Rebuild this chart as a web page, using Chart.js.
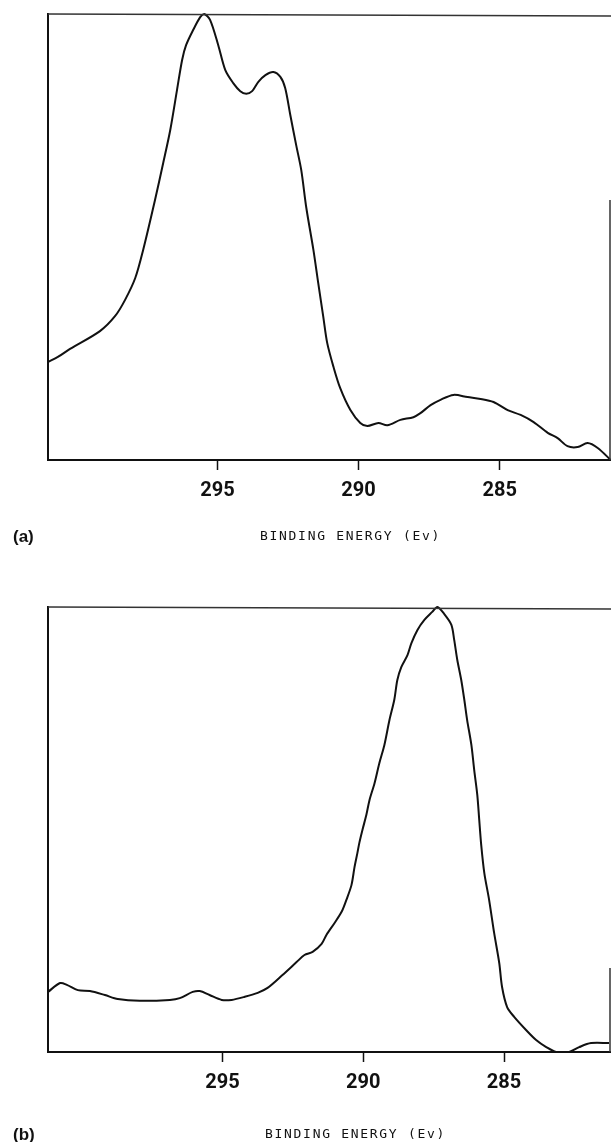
<!DOCTYPE html>
<html>
<head>
<meta charset="utf-8">
<script src="https://cdn.jsdelivr.net/npm/chart.js@4.4.0/dist/chart.umd.min.js"></script>
<style>
  html, body { margin: 0; padding: 0; background: #fff; }
  body { width: 611px; height: 1142px; position: relative; overflow: hidden; }
  canvas { position: absolute; left: 0; }
  #chartA { top: 0; }
  #chartB { top: 560px; }
</style>
</head>
<body>
<canvas id="chartA" width="611" height="560"></canvas>
<canvas id="chartB" width="611" height="582"></canvas>
<script>
// spectrum (a)
const energyA = [301.0, 300.65, 300.22, 299.16, 298.62, 298.27, 297.91, 297.63, 297.21, 296.92, 296.67, 296.43, 296.25, 296.11, 295.86, 295.61, 295.47, 295.26, 294.97, 294.72, 294.44, 294.19, 293.98, 293.77, 293.55, 293.30, 293.02, 292.77, 292.60, 292.42, 292.21, 292.03, 291.85, 291.60, 291.43, 291.25, 291.11, 290.89, 290.65, 290.29, 289.94, 289.69, 289.30, 288.98, 288.52, 288.06, 287.81, 287.45, 287.10, 286.64, 286.14, 285.68, 285.22, 284.72, 284.26, 283.80, 283.30, 282.95, 282.60, 282.24, 281.89, 281.53, 281.07];
const intensityA = [22.0, 23.1, 24.9, 28.9, 32.3, 35.9, 40.8, 47.1, 58.3, 66.6, 74.0, 83.0, 89.7, 93.0, 96.4, 99.3, 100, 98.7, 93.0, 87.4, 84.5, 82.7, 82.1, 82.7, 84.8, 86.3, 87.0, 85.9, 83.4, 77.4, 70.6, 65.0, 56.5, 47.1, 39.7, 32.1, 26.2, 20.9, 16.1, 11.2, 8.3, 7.6, 8.3, 7.8, 9.0, 9.6, 10.5, 12.3, 13.5, 14.6, 14.1, 13.7, 13.0, 11.2, 10.1, 8.5, 6.1, 4.9, 3.1, 2.9, 3.8, 2.7, 0];

// spectrum (b)
const energyB = [301.20, 300.77, 300.53, 300.14, 299.71, 299.18, 298.72, 297.94, 296.87, 296.52, 296.06, 295.81, 295.46, 295.03, 294.68, 294.21, 293.75, 293.40, 292.87, 292.37, 292.09, 291.80, 291.48, 291.31, 291.02, 290.77, 290.60, 290.42, 290.31, 290.21, 290.14, 290.03, 289.89, 289.78, 289.60, 289.43, 289.25, 289.07, 288.90, 288.79, 288.65, 288.43, 288.29, 288.08, 287.83, 287.55, 287.37, 287.12, 286.87, 286.77, 286.66, 286.52, 286.41, 286.31, 286.16, 286.06, 285.95, 285.88, 285.81, 285.70, 285.53, 285.35, 285.17, 285.07, 284.89, 284.64, 284.21, 283.86, 283.50, 283.15, 282.69, 282.33, 281.91, 281.27];
const intensityB = [13.5, 15.5, 15.1, 13.9, 13.7, 12.8, 11.9, 11.5, 11.7, 12.1, 13.5, 13.7, 12.8, 11.7, 11.7, 12.4, 13.3, 14.4, 17.3, 20.2, 21.8, 22.5, 24.3, 26.3, 29.0, 31.5, 34.2, 37.5, 41.6, 44.7, 47.0, 49.9, 53.3, 56.6, 60.4, 64.9, 69.0, 74.6, 79.1, 83.6, 86.5, 89.2, 91.9, 94.8, 97.1, 98.9, 100, 98.4, 96.0, 92.6, 88.1, 83.6, 79.1, 74.6, 69.0, 63.4, 57.8, 52.1, 46.5, 40.2, 34.2, 26.7, 20.0, 14.6, 10.1, 7.9, 4.9, 2.7, 1.1, 0, 0, 1.1, 2.0, 2.0];

const tickEnergies = [295, 290, 285];
const axisTitle = "BINDING ENERGY (Ev)";

// frame lines (left, top, part of right) + panel letter and axis title
const framePlugin = {
  id: "frame",
  afterDraw(chart, args, opts) {
    const { ctx, chartArea: a } = chart;
    ctx.save();
    ctx.strokeStyle = "#111";
    ctx.lineWidth = 2;
    ctx.beginPath();
    ctx.moveTo(a.left, a.bottom);
    ctx.lineTo(a.left, a.top - 1);
    ctx.stroke();

    ctx.lineWidth = 1.5;
    ctx.strokeStyle = "#333";
    ctx.beginPath();
    ctx.moveTo(a.left, a.top);
    ctx.lineTo(a.right, a.top + 2);
    ctx.stroke();

    ctx.beginPath();
    ctx.moveTo(a.right - 1, opts.rightFrom);
    ctx.lineTo(a.right - 1, a.bottom);
    ctx.stroke();

    ctx.fillStyle = "#111";
    ctx.textBaseline = "middle";
    ctx.font = "bold 17px 'Liberation Sans', Arial, sans-serif";
    ctx.fillText(opts.panel, 13, opts.labelY);

    ctx.font = "13px 'DejaVu Sans Mono', monospace";
    ctx.letterSpacing = "1.7px";
    ctx.fillText(axisTitle, opts.titleX, opts.labelY);
    ctx.restore();
  }
};

function makeChart(id, energies, intensities, xMin, xMax, padTop, padBottom, frameOpts) {
  const ctx = document.getElementById(id).getContext("2d");
  return new Chart(ctx, {
    type: "line",
    data: {
      datasets: [
        {
          data: energies.map((e, i) => ({ x: e, y: intensities[i] })),
          borderColor: "#111",
          borderWidth: 2,
          pointRadius: 0,
          tension: 0.3,
          fill: false,
          clip: false,
        },
      ],
    },
    options: {
      responsive: false,
      animation: false,
      layout: { padding: { left: 48, right: 0, top: padTop, bottom: padBottom } },
      scales: {
        x: {
          type: "linear",
          reverse: true,
          min: xMin,
          max: xMax,
          afterBuildTicks: (s) => {
            s.ticks = tickEnergies.map((v) => ({ value: v }));
          },
          afterFit: (s) => {
            s.height = 40;
          },
          ticks: {
            color: "#111",
            padding: 9,
            font: { family: "Roboto, 'Liberation Sans', sans-serif", size: 20, weight: "bold" },
          },
          grid: { drawOnChartArea: false, drawTicks: true, tickLength: 10, tickWidth: 1.5, tickColor: "#111" },
          border: { display: true, color: "#111", width: 2 },
        },
        y: { display: false, min: 0, max: 100 },
      },
      plugins: {
        legend: { display: false },
        tooltip: { enabled: false },
        frame: frameOpts,
      },
    },
    plugins: [framePlugin],
  });
}

makeChart("chartA", energyA, intensityA, 281.06, 301.0, 14, 60,
  { panel: "(a)", labelY: 537, titleX: 260, rightFrom: 200 });
makeChart("chartB", energyB, intensityB, 281.2, 301.2, 47, 50,
  { panel: "(b)", labelY: 575, titleX: 265, rightFrom: 408 });
</script>
</body>
</html>
